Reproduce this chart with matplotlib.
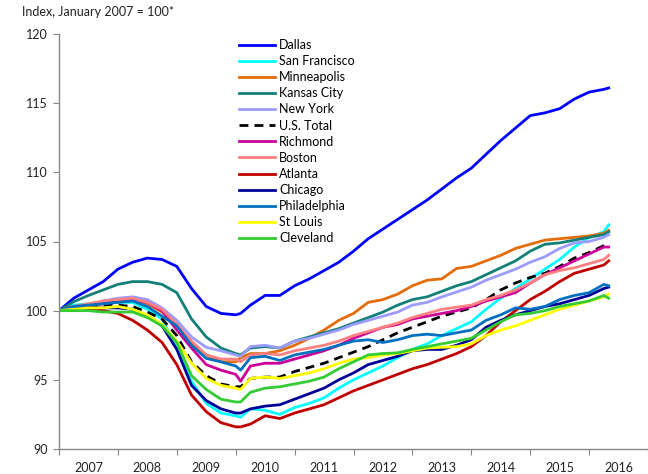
import matplotlib
matplotlib.use('Agg')

import numpy as np
import matplotlib.pyplot as plt
from matplotlib.ticker import FixedLocator, NullFormatter

plt.rcParams['font.family'] = ['Lato', 'DejaVu Sans']

# =========================
# DATA
# =========================
# months since January 2007 (roughly quarterly, extra point for the Jan 2010 dip)
months = [0, 3, 6, 9, 12, 15, 18, 21, 24, 27, 30, 33, 36, 37, 39, 42, 45, 48, 51, 54,
          57, 60, 63, 66, 69, 72, 75, 78, 81, 84, 87, 90, 93, 96, 99, 102, 105, 108, 111, 112]

dallas = [100.0, 100.9, 101.5, 102.1, 103.0, 103.5, 103.8, 103.7, 103.2, 101.6,
          100.3, 99.8, 99.7, 99.8, 100.4, 101.1, 101.1, 101.8, 102.3, 102.9,
          103.5, 104.3, 105.2, 105.9, 106.6, 107.3, 108.0, 108.8, 109.6, 110.3,
          111.3, 112.3, 113.2, 114.1, 114.3, 114.6, 115.3, 115.8, 116.0, 116.1]
san_francisco = [100.0, 100.4, 100.5, 100.6, 100.6, 100.6, 100.1, 99.4, 97.3, 94.9,
                 93.3, 92.6, 92.4, 92.3, 92.9, 92.8, 92.5, 93.0, 93.3, 93.7,
                 94.4, 95.0, 95.5, 96.0, 96.6, 97.2, 97.6, 98.2, 98.7, 99.2,
                 100.1, 100.9, 101.6, 102.3, 103.0, 103.7, 104.6, 105.3, 105.7, 106.2]
minneapolis = [100.0, 100.3, 100.4, 100.5, 100.6, 100.8, 100.5, 99.9, 99.0, 97.6,
               96.8, 96.3, 96.3, 96.6, 96.9, 96.9, 97.1, 97.5, 98.0, 98.6,
               99.3, 99.8, 100.6, 100.8, 101.2, 101.8, 102.2, 102.3, 103.05, 103.2,
               103.6, 104.0, 104.5, 104.8, 105.1, 105.2, 105.3, 105.4, 105.6, 105.8]
kansas_city = [100.0, 100.65, 101.1, 101.5, 101.9, 102.1, 102.1, 101.9, 101.3, 99.4,
               98.1, 97.3, 96.9, 96.8, 97.3, 97.4, 97.3, 97.8, 98.1, 98.4,
               98.7, 99.1, 99.5, 99.9, 100.4, 100.8, 101.0, 101.4, 101.8, 102.1,
               102.6, 103.1, 103.6, 104.3, 104.8, 104.9, 105.1, 105.3, 105.5, 105.7]
new_york = [100.0, 100.3, 100.4, 100.7, 100.9, 101.0, 100.8, 100.2, 99.3, 98.1,
            97.35, 97.1, 96.8, 96.7, 97.4, 97.5, 97.3, 97.8, 98.0, 98.3,
            98.6, 99.0, 99.3, 99.6, 99.9, 100.4, 100.6, 101.0, 101.35, 101.7,
            102.2, 102.6, 103.0, 103.5, 103.9, 104.5, 104.9, 105.0, 105.3, 105.5]
us_total = [100.0, 100.2, 100.3, 100.4, 100.4, 100.3, 99.9, 99.4, 98.2, 96.3,
            95.3, 94.7, 94.5, 94.5, 95.1, 95.2, 95.2, 95.6, 95.9, 96.2,
            96.6, 97.0, 97.4, 97.9, 98.4, 98.8, 99.2, 99.6, 99.9, 100.2,
            100.8, 101.5, 102.0, 102.4, 102.7, 103.2, 103.8, 104.2, 104.7, 104.9]
richmond = [100.0, 100.3, 100.4, 100.5, 100.7, 100.8, 100.6, 100.0, 98.6, 97.3,
            96.1, 95.7, 95.4, 94.9, 96.0, 96.2, 96.2, 96.5, 96.8, 97.1,
            97.5, 98.0, 98.4, 98.8, 99.0, 99.4, 99.6, 99.8, 100.0, 100.3,
            100.7, 101.0, 101.3, 102.0, 102.6, 103.1, 103.6, 104.1, 104.6, 104.6]
boston = [100.0, 100.3, 100.5, 100.7, 100.8, 100.9, 100.6, 100.1, 99.0, 97.8,
          96.8, 96.5, 96.5, 96.3, 96.8, 96.9, 96.8, 97.1, 97.3, 97.5,
          97.8, 98.2, 98.5, 98.8, 99.1, 99.5, 99.8, 100.1, 100.25, 100.4,
          100.8, 101.1, 101.5, 102.0, 102.6, 102.9, 103.1, 103.4, 103.7, 104.0]
atlanta = [100.0, 100.2, 100.1, 100.0, 99.8, 99.3, 98.6, 97.7, 96.1, 93.9,
           92.7, 91.9, 91.6, 91.6, 91.8, 92.4, 92.2, 92.6, 92.9, 93.2,
           93.7, 94.2, 94.6, 95.0, 95.4, 95.8, 96.1, 96.5, 96.9, 97.4,
           98.2, 99.2, 100.0, 100.8, 101.4, 102.1, 102.7, 103.0, 103.3, 103.6]
chicago = [100.0, 100.2, 100.2, 100.2, 100.2, 100.1, 99.6, 98.9, 97.2, 94.6,
           93.5, 92.9, 92.6, 92.6, 92.9, 93.1, 93.2, 93.6, 94.0, 94.4,
           95.0, 95.5, 96.1, 96.4, 96.7, 97.1, 97.2, 97.2, 97.5, 97.9,
           98.8, 99.3, 99.7, 100.0, 100.3, 100.5, 100.8, 101.1, 101.6, 101.7]
philadelphia = [100.0, 100.3, 100.4, 100.5, 100.6, 100.7, 100.3, 99.6, 98.9, 97.5,
                96.55, 96.3, 96.0, 95.7, 96.6, 96.7, 96.4, 96.8, 97.0, 97.2,
                97.5, 97.8, 97.9, 97.7, 97.9, 98.2, 98.3, 98.2, 98.4, 98.6,
                99.3, 99.7, 100.2, 100.1, 100.3, 100.8, 101.1, 101.3, 101.9, 101.8]
st_louis = [100.0, 100.1, 100.2, 100.2, 100.3, 100.1, 99.7, 99.0, 97.8, 96.2,
            95.1, 94.6, 94.4, 94.3, 95.1, 95.2, 95.1, 95.3, 95.5, 95.8,
            96.2, 96.5, 96.6, 96.8, 96.9, 97.1, 97.3, 97.35, 97.4, 97.6,
            98.2, 98.6, 98.9, 99.3, 99.7, 100.1, 100.4, 100.7, 101.0, 101.2]
cleveland = [100.0, 100.0, 100.0, 99.9, 99.9, 99.9, 99.5, 98.9, 97.7, 95.3,
             94.3, 93.6, 93.4, 93.4, 94.1, 94.4, 94.5, 94.7, 94.9, 95.2,
             95.8, 96.3, 96.8, 96.9, 96.95, 97.2, 97.4, 97.6, 97.8, 98.0,
             98.6, 99.2, 99.7, 99.8, 100.0, 100.3, 100.5, 100.7, 101.1, 100.9]

labels = ["Dallas", "San Francisco", "Minneapolis", "Kansas City", "New York",
          "U.S. Total", "Richmond", "Boston", "Atlanta", "Chicago",
          "Philadelphia", "St Louis", "Cleveland"]
series = [dallas, san_francisco, minneapolis, kansas_city, new_york,
          us_total, richmond, boston, atlanta, chicago,
          philadelphia, st_louis, cleveland]
colors = ["#0000FF", "#00FFFF", "#E46C0A", "#138078", "#9C9CFF",
          "#000000", "#CC0099", "#FF8080", "#C00000", "#000099",
          "#0070C0", "#FFFF00", "#33CC33"]

years = list(range(2007, 2018))
year_labels = [str(y) for y in range(2007, 2017)]

# =========================
# PLOT
# =========================
fig = plt.figure(figsize=(6.48, 4.74), dpi=100)
ax = fig.add_axes([59 / 648, 1 - 449 / 474, 589 / 648, 415 / 474])

x = 2007 + np.array(months) / 12.0
for lab, vals, col in zip(labels, series, colors):
    if lab == "U.S. Total":
        ax.plot(x, vals, color=col, lw=2.0, dashes=(3.2, 2.2), label=lab)
    else:
        ax.plot(x, vals, color=col, lw=2.0, label=lab)

ax.set_xlim(2007, 2017)
ax.set_ylim(90, 120)
ax.set_yticks(range(90, 121, 5))

# year boundaries as major ticks, labels in the middle of each year
ax.xaxis.set_major_locator(FixedLocator(years))
ax.xaxis.set_major_formatter(NullFormatter())
ax.xaxis.set_minor_locator(FixedLocator([y + 0.5 for y in range(2007, 2017)]))
ax.set_xticklabels(year_labels, minor=True)
ax.tick_params(axis='x', which='minor', length=0, pad=9, labelsize=9, labelcolor="#222222")
ax.tick_params(axis='x', which='major', length=4, color="#868686")
ax.tick_params(axis='y', length=4, color="#868686", labelsize=9, labelcolor="#222222", pad=4)

for side in ["top", "right"]:
    ax.spines[side].set_visible(False)
for side in ["left", "bottom"]:
    ax.spines[side].set_color("#868686")
    ax.spines[side].set_linewidth(1.0)

fig.text(22 / 648, 1 - 12 / 474, "Index, January 2007 = 100*", fontsize=9,
         va='center', ha='left', color="#222222")

ax.legend(loc='upper left', bbox_to_anchor=(0.305, 0.988), frameon=False,
          fontsize=9, handlelength=2.9, handletextpad=0.35, labelspacing=0.33,
          borderaxespad=0, borderpad=0)

fig.savefig("out.png", dpi=100)
